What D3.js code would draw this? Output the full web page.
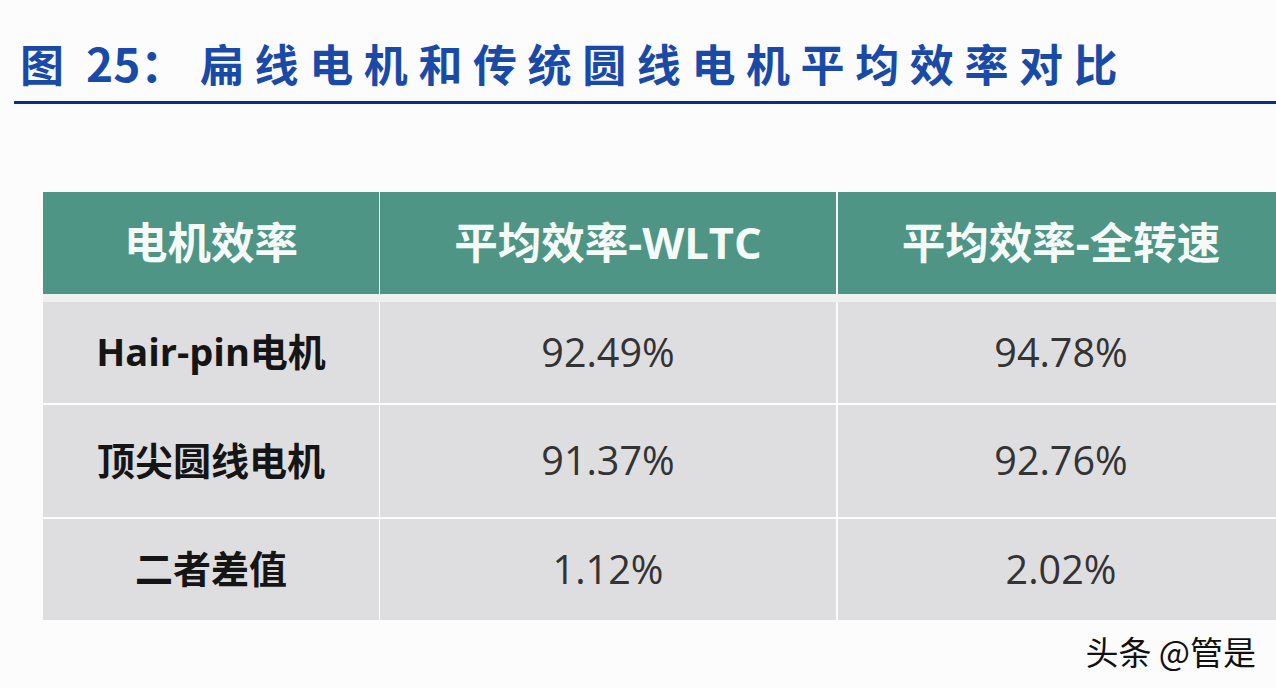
<!DOCTYPE html>
<html>
<head>
<meta charset="utf-8">
<script src="https://cdn.jsdelivr.net/npm/d3@7"></script>
<style>
  html, body { margin: 0; padding: 0; background: #fcfcfc; }
  svg { display: block; }
</style>
</head>
<body>
<div id="chart"></div>
<script>
// table contents
var columns = ["电机效率", "平均效率-WLTC", "平均效率-全转速"];
var motors = ["Hair-pin电机", "顶尖圆线电机", "二者差值"];
var wltc = [92.49, 91.37, 1.12];
var fullSpeed = [94.78, 92.76, 2.02];

var width = 1276, height = 688;
var cjk = "'Open Sans','Noto Sans CJK SC',sans-serif";

var svg = d3.select("#chart")
	.append("svg")
	.attr("width", width)
	.attr("height", height);

// title
var title = svg.append("g")
	.attr("font-family", "'Noto Sans CJK SC',sans-serif")
	.attr("font-weight", 700)
	.attr("font-size", 44)
	.attr("fill", "#1a4aa8");
title.append("text").attr("x", 20).attr("y", 82).text("图");
title.append("text").attr("x", 86).attr("y", 82).attr("font-size", 46).text("25：");
title.append("text")
	.attr("x", 200).attr("y", 82)
	.attr("letter-spacing", 10.6)
	.text("扁线电机和传统圆线电机平均效率对比");
svg.append("rect")
	.attr("x", 14).attr("y", 101)
	.attr("width", width - 14).attr("height", 3)
	.attr("fill", "#0b2d8c");

// layout: column edges and row edges
var colX = d3.scaleOrdinal(columns, [43, 380, 838]);
var colW = d3.scaleOrdinal(columns, [336, 456, 446]);
var rowY = d3.scaleOrdinal(motors, [302, 405, 519]);
var rowH = d3.scaleOrdinal(motors, [101, 112, 101]);
var headerTop = 192, headerH = 102;

// header
var header = svg.append("g").attr("class", "header");
header.append("rect")
	.attr("x", 43).attr("y", headerTop + headerH)
	.attr("width", width).attr("height", 8)
	.attr("fill", "#eef1f0");
header.selectAll("rect.hcell")
	.data(columns)
	.enter()
	.append("rect")
	.attr("class", "hcell")
	.attr("x", function(d){ return colX(d); })
	.attr("y", headerTop)
	.attr("width", function(d){ return colW(d); })
	.attr("height", headerH)
	.attr("fill", "#4f9585");
header.selectAll("text")
	.data(columns)
	.enter()
	.append("text")
	.attr("x", function(d){ return colX(d) + colW(d) / 2; })
	.attr("y", headerTop + headerH / 2)
	.attr("dy", "0.36em")
	.attr("text-anchor", "middle")
	.attr("font-family", cjk)
	.attr("font-weight", 700)
	.attr("font-size", 43.5)
	.attr("fill", "#f3faf7")
	.text(function(d){ return d; });

// body rows
var rows = motors.map(function(m, i){
	return [m, wltc[i].toFixed(2) + "%", fullSpeed[i].toFixed(2) + "%"];
});

var body = svg.append("g").attr("class", "body");
var rowG = body.selectAll("g.row")
	.data(rows)
	.enter()
	.append("g")
	.attr("class", "row");

function cells(r){
	return r.map(function(v, j){ return {row: r[0], col: columns[j], v: v, j: j}; });
}

rowG.selectAll("rect")
	.data(cells)
	.enter()
	.append("rect")
	.attr("x", function(d){ return colX(d.col); })
	.attr("y", function(d){ return rowY(d.row); })
	.attr("width", function(d){ return colW(d.col); })
	.attr("height", function(d){ return rowH(d.row); })
	.attr("fill", "#dedde0");

rowG.selectAll("text")
	.data(cells)
	.enter()
	.append("text")
	.attr("x", function(d){ return colX(d.col) + colW(d.col) / 2; })
	.attr("y", function(d){ return rowY(d.row) + rowH(d.row) / 2; })
	.attr("dy", "0.36em")
	.attr("text-anchor", "middle")
	.attr("font-family", cjk)
	.attr("font-weight", function(d){ return d.j == 0 ? 700 : 400; })
	.attr("font-size", function(d){ return d.j == 0 ? 38 : 39.5; })
	.attr("fill", function(d){ return d.j == 0 ? "#151515" : "#333333"; })
	.text(function(d){ return d.v; });

// watermark
svg.append("text")
	.attr("x", 1256).attr("y", 665)
	.attr("text-anchor", "end")
	.attr("font-family", "'Noto Sans CJK SC',sans-serif")
	.attr("font-size", 33)
	.attr("fill", "#111")
	.attr("stroke", "#fff")
	.attr("stroke-width", 1)
	.attr("paint-order", "stroke")
	.text("头条 @管是");
</script>
</body>
</html>
